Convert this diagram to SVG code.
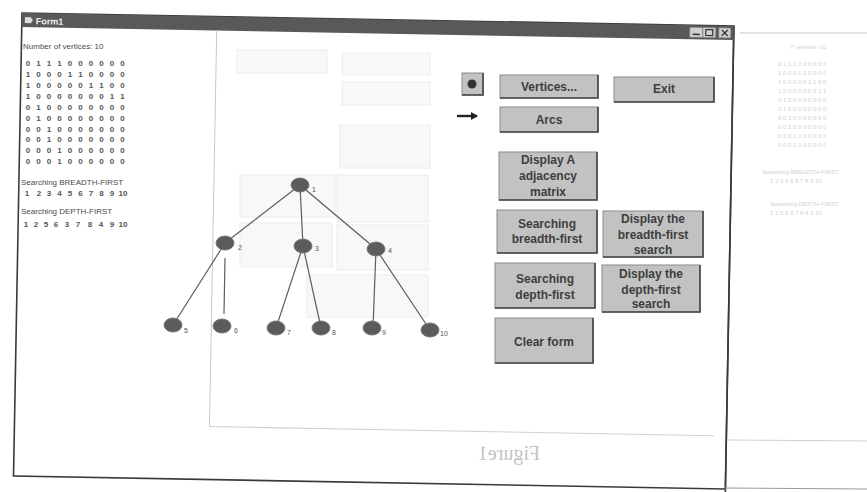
<svg xmlns="http://www.w3.org/2000/svg" width="867" height="492" viewBox="0 0 867 492">
<defs>
<style>
.t{font-family:"Liberation Sans",Arial,sans-serif;fill:#4a4a4a}
.sm{font-size:8px}
.mx{font-family:"Liberation Sans",Arial,sans-serif;font-size:8px;text-anchor:middle;font-weight:bold;fill:#555}
.btn rect.b{fill:#c2c2c2;stroke:#8a8a8a;stroke-width:1}
.btn path.sh{fill:none;stroke:#444;stroke-width:1.6}
.bt{font-family:"Liberation Sans",Arial,sans-serif;font-size:12px;font-weight:bold;fill:#3e3e3e;text-anchor:middle}
.ghost{fill:#f8f8f8;stroke:#ececec;stroke-width:1}
.node ellipse{fill:#5c5c5c;stroke:#777;stroke-width:1}
.nl{font-family:"Liberation Sans",Arial,sans-serif;font-size:7px;fill:#555}
.faint{font-family:"Liberation Sans",Arial,sans-serif;font-size:6px;fill:#d2d2d2}
</style>
<marker id="ah" markerWidth="8" markerHeight="8" refX="6" refY="4" orient="auto" markerUnits="userSpaceOnUse">
<path d="M0,0 L7,4 L0,8 Z" fill="#222"/>
</marker>
</defs>
<rect width="867" height="492" fill="#ffffff"/>

<!-- faint bleed-through boxes -->
<g id="ghosts">
<rect class="ghost" x="237" y="50" width="90" height="23"/>
<rect class="ghost" x="342" y="53" width="88" height="22"/>
<rect class="ghost" x="342" y="82" width="88" height="23"/>
<rect class="ghost" x="340" y="125" width="90" height="43"/>
<rect class="ghost" x="240" y="175" width="95" height="42"/>
<rect class="ghost" x="337" y="175" width="91" height="47"/>
<rect class="ghost" x="240" y="223" width="92" height="44"/>
<rect class="ghost" x="337" y="225" width="91" height="45"/>
<rect class="ghost" x="307" y="275" width="121" height="42"/>
</g>

<!-- window frame (slightly rotated scan) -->
<g id="window" transform="translate(22,13) rotate(1.05)">
<rect x="0" y="0" width="712" height="463" fill="none" stroke="#3a3a3a" stroke-width="1.6"/>
<line x1="712" y1="0" x2="712" y2="472" stroke="#3a3a3a" stroke-width="1.6"/>
<rect x="0" y="0" width="712" height="14" fill="#595959"/>
<path d="M3,4 L9,4 L11,7 L9,10 L3,10 Z" fill="#dcdcdc"/>
<text x="14" y="11" font-family="Liberation Sans,Arial,sans-serif" font-size="9" font-weight="bold" fill="#f0f0f0">Form1</text>
<rect x="668" y="2" width="13" height="10" fill="#cfcfcf" stroke="#777" stroke-width="0.6"/>
<rect x="681" y="2" width="13" height="10" fill="#cfcfcf" stroke="#777" stroke-width="0.6"/>
<rect x="697" y="2" width="12" height="10" fill="#cfcfcf" stroke="#777" stroke-width="0.6"/>
<line x1="671" y1="9" x2="678" y2="9" stroke="#333" stroke-width="1.5"/>
<rect x="684" y="4" width="7" height="6" fill="none" stroke="#333" stroke-width="1.2"/>
<path d="M700,4 L706,10 M706,4 L700,10" stroke="#333" stroke-width="1.3"/>
<line x1="195" y1="14" x2="195" y2="410" stroke="#c8c8c8" stroke-width="1"/>
<line x1="195" y1="410" x2="700" y2="410" stroke="#d2d2d2" stroke-width="1.2"/>
</g>

<!-- page lines outside window -->
<line x1="740" y1="33" x2="867" y2="33" stroke="#c8c8c8" stroke-width="1"/>
<line x1="728" y1="440" x2="867" y2="441" stroke="#d0d0d0" stroke-width="1"/>
<line x1="725" y1="488" x2="867" y2="489" stroke="#9a9a9a" stroke-width="1"/>

<!-- faint right page text -->
<g id="faint-page">
<text class="faint" x="790" y="49">/* vertices: 10</text>
<text class="faint" x="778" y="66">0 1 1 1 0 0 0 0 0 0</text>
<text class="faint" x="778" y="75">1 0 0 0 1 1 0 0 0 0</text>
<text class="faint" x="778" y="84">1 0 0 0 0 0 1 1 0 0</text>
<text class="faint" x="778" y="93">1 0 0 0 0 0 0 0 1 1</text>
<text class="faint" x="778" y="102">0 1 0 0 0 0 0 0 0 0</text>
<text class="faint" x="778" y="111">0 1 0 0 0 0 0 0 0 0</text>
<text class="faint" x="778" y="120">0 0 1 0 0 0 0 0 0 0</text>
<text class="faint" x="778" y="129">0 0 1 0 0 0 0 0 0 0</text>
<text class="faint" x="778" y="138">0 0 0 1 0 0 0 0 0 0</text>
<text class="faint" x="778" y="147">0 0 0 1 0 0 0 0 0 0</text>
<text class="faint" x="762" y="174">Searching BREADTH-FIRST</text>
<text class="faint" x="770" y="183">1 2 3 4 5 6 7 8 9 10</text>
<text class="faint" x="770" y="206">Searching DEPTH-FIRST</text>
<text class="faint" x="770" y="215">1 2 5 6 3 7 8 4 9 10</text>
</g>

<!-- left output panel -->
<g id="output-panel">
<text class="t sm" x="23" y="49">Number of vertices: 10</text>
<text class="mx" y="66"><tspan x="28">0</tspan><tspan x="38.5">1</tspan><tspan x="49">1</tspan><tspan x="59.5">1</tspan><tspan x="70">0</tspan><tspan x="80.5">0</tspan><tspan x="91">0</tspan><tspan x="101.5">0</tspan><tspan x="112">0</tspan><tspan x="122.5">0</tspan></text>
<text class="mx" y="77"><tspan x="28">1</tspan><tspan x="38.5">0</tspan><tspan x="49">0</tspan><tspan x="59.5">0</tspan><tspan x="70">1</tspan><tspan x="80.5">1</tspan><tspan x="91">0</tspan><tspan x="101.5">0</tspan><tspan x="112">0</tspan><tspan x="122.5">0</tspan></text>
<text class="mx" y="88"><tspan x="28">1</tspan><tspan x="38.5">0</tspan><tspan x="49">0</tspan><tspan x="59.5">0</tspan><tspan x="70">0</tspan><tspan x="80.5">0</tspan><tspan x="91">1</tspan><tspan x="101.5">1</tspan><tspan x="112">0</tspan><tspan x="122.5">0</tspan></text>
<text class="mx" y="99"><tspan x="28">1</tspan><tspan x="38.5">0</tspan><tspan x="49">0</tspan><tspan x="59.5">0</tspan><tspan x="70">0</tspan><tspan x="80.5">0</tspan><tspan x="91">0</tspan><tspan x="101.5">0</tspan><tspan x="112">1</tspan><tspan x="122.5">1</tspan></text>
<text class="mx" y="110"><tspan x="28">0</tspan><tspan x="38.5">1</tspan><tspan x="49">0</tspan><tspan x="59.5">0</tspan><tspan x="70">0</tspan><tspan x="80.5">0</tspan><tspan x="91">0</tspan><tspan x="101.5">0</tspan><tspan x="112">0</tspan><tspan x="122.5">0</tspan></text>
<text class="mx" y="121"><tspan x="28">0</tspan><tspan x="38.5">1</tspan><tspan x="49">0</tspan><tspan x="59.5">0</tspan><tspan x="70">0</tspan><tspan x="80.5">0</tspan><tspan x="91">0</tspan><tspan x="101.5">0</tspan><tspan x="112">0</tspan><tspan x="122.5">0</tspan></text>
<text class="mx" y="132"><tspan x="28">0</tspan><tspan x="38.5">0</tspan><tspan x="49">1</tspan><tspan x="59.5">0</tspan><tspan x="70">0</tspan><tspan x="80.5">0</tspan><tspan x="91">0</tspan><tspan x="101.5">0</tspan><tspan x="112">0</tspan><tspan x="122.5">0</tspan></text>
<text class="mx" y="142"><tspan x="28">0</tspan><tspan x="38.5">0</tspan><tspan x="49">1</tspan><tspan x="59.5">0</tspan><tspan x="70">0</tspan><tspan x="80.5">0</tspan><tspan x="91">0</tspan><tspan x="101.5">0</tspan><tspan x="112">0</tspan><tspan x="122.5">0</tspan></text>
<text class="mx" y="153"><tspan x="28">0</tspan><tspan x="38.5">0</tspan><tspan x="49">0</tspan><tspan x="59.5">1</tspan><tspan x="70">0</tspan><tspan x="80.5">0</tspan><tspan x="91">0</tspan><tspan x="101.5">0</tspan><tspan x="112">0</tspan><tspan x="122.5">0</tspan></text>
<text class="mx" y="164"><tspan x="28">0</tspan><tspan x="38.5">0</tspan><tspan x="49">0</tspan><tspan x="59.5">1</tspan><tspan x="70">0</tspan><tspan x="80.5">0</tspan><tspan x="91">0</tspan><tspan x="101.5">0</tspan><tspan x="112">0</tspan><tspan x="122.5">0</tspan></text>
<text class="t sm" x="21" y="185">Searching BREADTH-FIRST</text>
<text class="mx" y="196"><tspan x="27">1</tspan><tspan x="39">2</tspan><tspan x="49">3</tspan><tspan x="59.5">4</tspan><tspan x="70">5</tspan><tspan x="80.5">6</tspan><tspan x="91">7</tspan><tspan x="101.5">8</tspan><tspan x="112">9</tspan><tspan x="123">10</tspan></text>
<text class="t sm" x="21" y="214">Searching DEPTH-FIRST</text>
<text class="mx" y="227"><tspan x="26">1</tspan><tspan x="36">2</tspan><tspan x="46">5</tspan><tspan x="56">6</tspan><tspan x="67">3</tspan><tspan x="78">7</tspan><tspan x="90">8</tspan><tspan x="101">4</tspan><tspan x="112">9</tspan><tspan x="123">10</tspan></text>
</g>

<!-- connectors -->
<g id="connectors" stroke="#5e5e5e" stroke-width="1.2" fill="none">
<line x1="300" y1="185" x2="225" y2="243"/>
<line x1="300" y1="185" x2="303" y2="246"/>
<line x1="300" y1="185" x2="376" y2="249"/>
<line x1="225" y1="243" x2="173" y2="325"/>
<line x1="225" y1="258" x2="224" y2="314"/>
<line x1="303" y1="246" x2="276" y2="328"/>
<line x1="303" y1="246" x2="321" y2="328"/>
<line x1="376" y1="249" x2="373" y2="328"/>
<line x1="376" y1="249" x2="430" y2="330"/>
</g>

<!-- nodes -->
<g id="node-1" class="node"><ellipse cx="300" cy="185" rx="9" ry="7"/><text class="nl" x="312" y="192">1</text></g>
<g id="node-2" class="node"><ellipse cx="225" cy="243" rx="9" ry="7"/><text class="nl" x="238" y="250">2</text></g>
<g id="node-3" class="node"><ellipse cx="303" cy="246" rx="9" ry="7"/><text class="nl" x="315" y="251">3</text></g>
<g id="node-4" class="node"><ellipse cx="376" cy="249" rx="9" ry="7"/><text class="nl" x="388" y="253">4</text></g>
<g id="node-5" class="node"><ellipse cx="173" cy="325" rx="9" ry="7"/><text class="nl" x="184" y="333">5</text></g>
<g id="node-6" class="node"><ellipse cx="222" cy="326" rx="9" ry="7"/><text class="nl" x="234" y="333">6</text></g>
<g id="node-7" class="node"><ellipse cx="276" cy="328" rx="9" ry="7"/><text class="nl" x="287" y="335">7</text></g>
<g id="node-8" class="node"><ellipse cx="321" cy="328" rx="9" ry="7"/><text class="nl" x="332" y="335">8</text></g>
<g id="node-9" class="node"><ellipse cx="372" cy="328" rx="9" ry="7"/><text class="nl" x="382" y="335">9</text></g>
<g id="node-10" class="node"><ellipse cx="430" cy="330" rx="9" ry="7"/><text class="nl" x="440" y="336">10</text></g>

<!-- controls -->
<g id="icon-button" class="btn"><rect class="b" x="462" y="73" width="21" height="22"/><path class="sh" d="M462,95 L483,95 L483,73"/><circle cx="472" cy="84" r="4.5" fill="#333"/></g>
<g id="arrow"><line x1="457" y1="116" x2="477" y2="116" stroke="#222" stroke-width="2.4" marker-end="url(#ah)"/></g>

<g id="btn-vertices" class="btn"><rect class="b" x="500" y="75" width="98" height="23"/><path class="sh" d="M500,98 L598,98 L598,75"/><text class="bt" x="549" y="91">Vertices...</text></g>
<g id="btn-exit" class="btn"><rect class="b" x="614" y="77" width="100" height="25"/><path class="sh" d="M614,102 L714,102 L714,77"/><text class="bt" x="664" y="93">Exit</text></g>
<g id="btn-arcs" class="btn"><rect class="b" x="500" y="107" width="98" height="25"/><path class="sh" d="M500,132 L598,132 L598,107"/><text class="bt" x="549" y="124">Arcs</text></g>
<g id="btn-matrix" class="btn"><rect class="b" x="499" y="152" width="98" height="48"/><path class="sh" d="M499,200 L597,200 L597,152"/><text class="bt" x="548" y="164">Display A</text><text class="bt" x="548" y="180">adjacency</text><text class="bt" x="548" y="196">matrix</text></g>
<g id="btn-bfs" class="btn"><rect class="b" x="497" y="210" width="100" height="43"/><path class="sh" d="M497,253 L597,253 L597,210"/><text class="bt" x="547" y="228">Searching</text><text class="bt" x="547" y="243">breadth-first</text></g>
<g id="btn-show-bfs" class="btn"><rect class="b" x="603" y="211" width="100" height="46"/><path class="sh" d="M603,257 L703,257 L703,211"/><text class="bt" x="653" y="223">Display the</text><text class="bt" x="653" y="239">breadth-first</text><text class="bt" x="653" y="254">search</text></g>
<g id="btn-dfs" class="btn"><rect class="b" x="495" y="263" width="100" height="45" stroke="#333" stroke-width="1.6"/><path class="sh" d="M495,308 L595,308 L595,263"/><text class="bt" x="545" y="283">Searching</text><text class="bt" x="545" y="299">depth-first</text></g>
<g id="btn-show-dfs" class="btn"><rect class="b" x="602" y="265" width="98" height="47"/><path class="sh" d="M602,312 L700,312 L700,265"/><text class="bt" x="651" y="278">Display the</text><text class="bt" x="651" y="294">depth-first</text><text class="bt" x="651" y="308" font-size="10">search</text></g>
<g id="btn-clear" class="btn"><rect class="b" x="495" y="318" width="98" height="45"/><path class="sh" d="M495,363 L593,363 L593,318"/><text class="bt" x="544" y="346">Clear form</text></g>

<!-- mirrored bleed-through caption -->
<text x="508" y="460" transform="translate(1017,0) scale(-1,1)" font-family="Liberation Serif,Times New Roman,serif" font-size="20" fill="#c4c4c4" text-anchor="middle">Figure1</text>
</svg>
